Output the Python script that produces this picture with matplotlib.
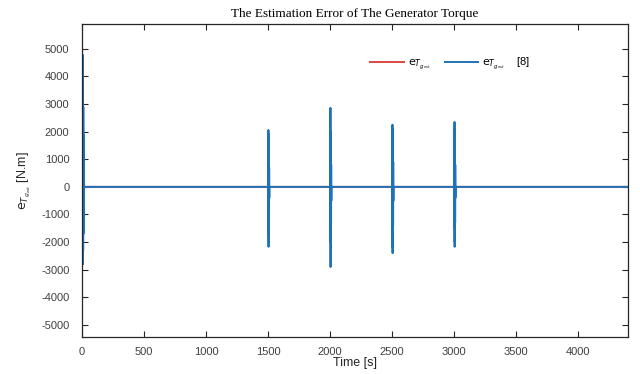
import matplotlib
matplotlib.use("Agg")
import matplotlib.pyplot as plt
import numpy as np

# ---- data -------------------------------------------------------------
t_end = 4400.0                       # simulation length [s]
sample_step = 1.0                    # spacing of samples inside a burst [s]
burst_times = [6, 1500, 2000, 2500, 3000]   # start of each transient [s]

# blue series (reference method [8]): samples of each transient [N.m]
blue_burst_0 = [0, 4780, -2800, 3900, -2300, 2900, -1700, 1900, -1100, 900, -400, 150, 0]
blue_burst_1500 = [0, 1500, -1600, 2060, -2170, 1900, -1800, 1400, -1200, 700, -400, 0]
blue_burst_2000 = [0, 1700, -1800, 2860, -2900, 2000, -2030, 1500, -1400, 800, -500, 0]
blue_burst_2500 = [0, 1600, -1700, 2250, -2400, 2100, -2200, 1600, -1400, 900, -500, 0]
blue_burst_3000 = [0, 1500, -1500, 2350, -2170, 2060, -2000, 1500, -1300, 800, -400, 0]

# red series (proposed estimator): samples of each transient [N.m]
red_burst_0 = [0, 3200, -1900, 2400, -1400, 1500, -800, 600, -200, 0]
red_burst_1500 = [0, 900, -1000, 1200, -1100, 800, -600, 300, 0]
red_burst_2000 = [0, 1000, -1100, 1300, -1200, 800, -600, 300, 0]
red_burst_2500 = [0, 1000, -1100, 1300, -1300, 900, -600, 300, 0]
red_burst_3000 = [0, 900, -1000, 1200, -1100, 800, -500, 300, 0]

x_ticks = [0, 500, 1000, 1500, 2000, 2500, 3000, 3500, 4000]
y_ticks = [-5000, -4000, -3000, -2000, -1000, 0, 1000, 2000, 3000, 4000, 5000]


def assemble(bursts):
    """Join the transients with flat zero segments between them."""
    t_all, v_all = [0.0], [0]
    for start, vals in zip(burst_times, bursts):
        t_all.extend(start + sample_step * np.arange(len(vals)))
        v_all.extend(vals)
    t_all.append(t_end)
    v_all.append(0)
    return np.array(t_all), np.array(v_all)


t_red, e_red = assemble([red_burst_0, red_burst_1500, red_burst_2000,
                         red_burst_2500, red_burst_3000])
t_blue, e_blue = assemble([blue_burst_0, blue_burst_1500, blue_burst_2000,
                           blue_burst_2500, blue_burst_3000])

# ---- figure -----------------------------------------------------------
plt.rcParams["font.family"] = ["Liberation Sans", "DejaVu Sans"]
plt.rcParams["mathtext.fontset"] = "dejavusans"
plt.rcParams["axes.unicode_minus"] = False

fig = plt.figure(figsize=(6.4, 3.74), dpi=100)
ax = fig.add_axes([0.128, 0.099, 0.853, 0.837])

red = "#d9473f"
blue = "#1f72b8"
label_red = r"$\mathrm{e}_{T_{g_{est}}}$"
label_blue = r"$\mathrm{e}_{T_{g_{est}}}$    [8]"

ax.plot(t_red, e_red, color=red, lw=1.4, label=label_red)
ax.plot(t_blue, e_blue, color=blue, lw=1.4, label=label_blue)

ax.set_xlim(0, t_end)
ax.set_ylim(-5435, 5900)
ax.set_xticks(x_ticks)
ax.set_yticks(y_ticks)

axis_col = "#262626"
for s in ax.spines.values():
    s.set_color(axis_col)
    s.set_linewidth(0.9)
ax.tick_params(direction="in", top=True, right=True, length=4, width=0.8,
               colors=axis_col, labelsize=8, labelcolor="#404040")
ax.tick_params(axis="y", pad=9)
ax.tick_params(axis="x", pad=7)

ax.set_title("The Estimation Error of The Generator Torque",
             fontfamily="Liberation Serif", fontsize=9.5, pad=5)
ax.set_xlabel("Time [s]", fontsize=9, color="#262626", labelpad=0)
ax.set_ylabel(r"$\mathrm{e}_{T_{g_{est}}}$ [N.m]", fontsize=9, color="#262626",
              labelpad=6)

ax.legend(loc="upper left", bbox_to_anchor=(0.51, 0.93), ncol=2, frameon=False,
          fontsize=8, handlelength=3.0, columnspacing=1.2, handletextpad=0.4)

fig.savefig("out.png", dpi=100)
